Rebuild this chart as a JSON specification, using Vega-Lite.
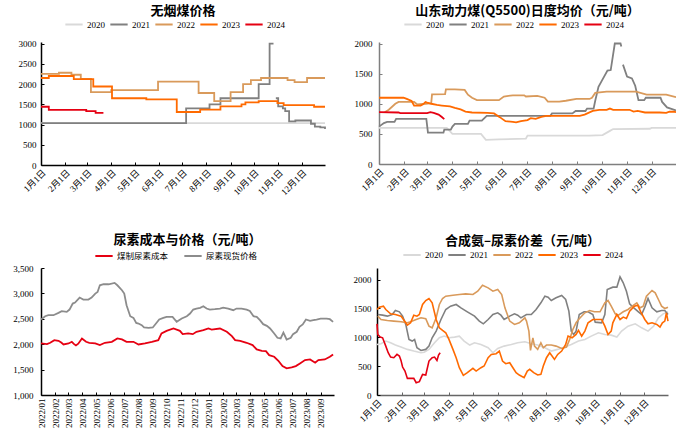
{
  "$schema": "https://vega.github.io/schema/vega-lite/v6.json",
  "padding": {"left": 0, "top": 5, "right": 0, "bottom": 0},
  "background": "white",
  "datasets": {
    "tl": [
      {"date": "2001/01/01", "series": "2020", "value": 1035},
      {"date": "2001/12/31", "series": "2020", "value": 1035},
      {"date": "2001/01/01", "series": "2021", "value": 1035},
      {"date": "2001/07/06", "series": "2021", "value": 1400},
      {"date": "2001/08/05", "series": "2021", "value": 1500},
      {"date": "2001/08/19", "series": "2021", "value": 1650},
      {"date": "2001/10/07", "series": "2021", "value": 2000},
      {"date": "2001/10/21", "series": "2021", "value": 3000},
      {"date": "2001/10/26", "series": "2021", "value": 3000},
      {"date": "2001/10/27", "series": "2021", "value": null},
      {"date": "2001/10/29", "series": "2021", "value": 1650},
      {"date": "2001/11/01", "series": "2021", "value": 1450},
      {"date": "2001/11/07", "series": "2021", "value": 1400},
      {"date": "2001/11/10", "series": "2021", "value": 1330},
      {"date": "2001/11/15", "series": "2021", "value": 1080},
      {"date": "2001/11/23", "series": "2021", "value": 1100},
      {"date": "2001/12/13", "series": "2021", "value": 1020},
      {"date": "2001/12/18", "series": "2021", "value": 950},
      {"date": "2001/12/25", "series": "2021", "value": 930},
      {"date": "2001/12/31", "series": "2021", "value": 890},
      {"date": "2001/01/01", "series": "2022", "value": 2250},
      {"date": "2001/01/24", "series": "2022", "value": 2280},
      {"date": "2001/02/09", "series": "2022", "value": 2230},
      {"date": "2001/02/21", "series": "2022", "value": 2130},
      {"date": "2001/03/06", "series": "2022", "value": 1800},
      {"date": "2001/04/01", "series": "2022", "value": 1850},
      {"date": "2001/05/31", "series": "2022", "value": 2060},
      {"date": "2001/07/22", "series": "2022", "value": 1780},
      {"date": "2001/08/11", "series": "2022", "value": 1580},
      {"date": "2001/09/01", "series": "2022", "value": 1800},
      {"date": "2001/09/17", "series": "2022", "value": 2000},
      {"date": "2001/09/27", "series": "2022", "value": 2100},
      {"date": "2001/10/10", "series": "2022", "value": 2150},
      {"date": "2001/11/13", "series": "2022", "value": 2100},
      {"date": "2001/11/22", "series": "2022", "value": 2050},
      {"date": "2001/12/08", "series": "2022", "value": 2150},
      {"date": "2001/12/31", "series": "2022", "value": 2150},
      {"date": "2001/01/01", "series": "2023", "value": 2150},
      {"date": "2001/01/11", "series": "2023", "value": 2200},
      {"date": "2001/02/12", "series": "2023", "value": 2120},
      {"date": "2001/03/09", "series": "2023", "value": 1940},
      {"date": "2001/04/02", "series": "2023", "value": 1650},
      {"date": "2001/05/16", "series": "2023", "value": 1620},
      {"date": "2001/06/24", "series": "2023", "value": 1310},
      {"date": "2001/07/24", "series": "2023", "value": 1370},
      {"date": "2001/08/19", "series": "2023", "value": 1450},
      {"date": "2001/09/15", "series": "2023", "value": 1500},
      {"date": "2001/09/20", "series": "2023", "value": 1550},
      {"date": "2001/10/07", "series": "2023", "value": 1580},
      {"date": "2001/10/31", "series": "2023", "value": 1530},
      {"date": "2001/11/08", "series": "2023", "value": 1480},
      {"date": "2001/12/17", "series": "2023", "value": 1440},
      {"date": "2001/12/31", "series": "2023", "value": 1440},
      {"date": "2001/01/01", "series": "2024", "value": 1440},
      {"date": "2001/01/11", "series": "2024", "value": 1360},
      {"date": "2001/02/28", "series": "2024", "value": 1330},
      {"date": "2001/03/12", "series": "2024", "value": 1290},
      {"date": "2001/03/22", "series": "2024", "value": 1290}
    ],
    "tr": [
      {"date": "2001/01/01", "series": "2020", "value": 600},
      {"date": "2001/03/25", "series": "2020", "value": 600},
      {"date": "2001/04/01", "series": "2020", "value": 500},
      {"date": "2001/05/06", "series": "2020", "value": 500},
      {"date": "2001/05/12", "series": "2020", "value": 400},
      {"date": "2001/05/28", "series": "2020", "value": 410},
      {"date": "2001/06/30", "series": "2020", "value": 420},
      {"date": "2001/07/02", "series": "2020", "value": 470},
      {"date": "2001/09/16", "series": "2020", "value": 470},
      {"date": "2001/10/02", "series": "2020", "value": 480},
      {"date": "2001/10/11", "series": "2020", "value": 550},
      {"date": "2001/10/15", "series": "2020", "value": 580},
      {"date": "2001/11/29", "series": "2020", "value": 585},
      {"date": "2001/12/01", "series": "2020", "value": 600},
      {"date": "2001/12/31", "series": "2020", "value": 600},
      {"date": "2001/01/01", "series": "2021", "value": 620},
      {"date": "2001/01/07", "series": "2021", "value": 680},
      {"date": "2001/01/11", "series": "2021", "value": 700},
      {"date": "2001/01/20", "series": "2021", "value": 700},
      {"date": "2001/01/22", "series": "2021", "value": 750},
      {"date": "2001/02/28", "series": "2021", "value": 750},
      {"date": "2001/03/02", "series": "2021", "value": 520},
      {"date": "2001/03/21", "series": "2021", "value": 520},
      {"date": "2001/03/22", "series": "2021", "value": 570},
      {"date": "2001/03/30", "series": "2021", "value": 570},
      {"date": "2001/04/01", "series": "2021", "value": 620},
      {"date": "2001/04/04", "series": "2021", "value": 665},
      {"date": "2001/04/20", "series": "2021", "value": 665},
      {"date": "2001/04/22", "series": "2021", "value": 720},
      {"date": "2001/05/07", "series": "2021", "value": 720},
      {"date": "2001/05/13", "series": "2021", "value": 800},
      {"date": "2001/07/30", "series": "2021", "value": 800},
      {"date": "2001/08/01", "series": "2021", "value": 840},
      {"date": "2001/08/26", "series": "2021", "value": 840},
      {"date": "2001/08/30", "series": "2021", "value": 880},
      {"date": "2001/09/11", "series": "2021", "value": 880},
      {"date": "2001/09/13", "series": "2021", "value": 920},
      {"date": "2001/09/21", "series": "2021", "value": 920},
      {"date": "2001/09/23", "series": "2021", "value": 1050},
      {"date": "2001/09/27", "series": "2021", "value": 1280},
      {"date": "2001/10/01", "series": "2021", "value": 1380},
      {"date": "2001/10/08", "series": "2021", "value": 1550},
      {"date": "2001/10/12", "series": "2021", "value": 1560},
      {"date": "2001/10/17", "series": "2021", "value": 2000},
      {"date": "2001/10/24", "series": "2021", "value": 2000},
      {"date": "2001/10/25", "series": "2021", "value": 1950},
      {"date": "2001/10/26", "series": "2021", "value": null},
      {"date": "2001/10/27", "series": "2021", "value": 1650},
      {"date": "2001/11/01", "series": "2021", "value": 1450},
      {"date": "2001/11/07", "series": "2021", "value": 1420},
      {"date": "2001/11/11", "series": "2021", "value": 1300},
      {"date": "2001/11/15", "series": "2021", "value": 1060},
      {"date": "2001/11/22", "series": "2021", "value": 1060},
      {"date": "2001/11/24", "series": "2021", "value": 1100},
      {"date": "2001/12/12", "series": "2021", "value": 1100},
      {"date": "2001/12/14", "series": "2021", "value": 1030},
      {"date": "2001/12/20", "series": "2021", "value": 940},
      {"date": "2001/12/31", "series": "2021", "value": 890},
      {"date": "2001/01/08", "series": "2022", "value": 860},
      {"date": "2001/01/13", "series": "2022", "value": 900},
      {"date": "2001/01/21", "series": "2022", "value": 1000},
      {"date": "2001/01/25", "series": "2022", "value": 1030},
      {"date": "2001/02/13", "series": "2022", "value": 1030},
      {"date": "2001/02/17", "series": "2022", "value": 990},
      {"date": "2001/02/27", "series": "2022", "value": 1000},
      {"date": "2001/03/06", "series": "2022", "value": 1010},
      {"date": "2001/03/07", "series": "2022", "value": 1155},
      {"date": "2001/03/23", "series": "2022", "value": 1160},
      {"date": "2001/03/24", "series": "2022", "value": 1240},
      {"date": "2001/04/04", "series": "2022", "value": 1240},
      {"date": "2001/04/16", "series": "2022", "value": 1230},
      {"date": "2001/04/20", "series": "2022", "value": 1150},
      {"date": "2001/04/25", "series": "2022", "value": 1100},
      {"date": "2001/05/01", "series": "2022", "value": 1060},
      {"date": "2001/05/28", "series": "2022", "value": 1060},
      {"date": "2001/06/03", "series": "2022", "value": 1120},
      {"date": "2001/06/14", "series": "2022", "value": 1140},
      {"date": "2001/06/28", "series": "2022", "value": 1140},
      {"date": "2001/06/30", "series": "2022", "value": 1120},
      {"date": "2001/07/14", "series": "2022", "value": 1130},
      {"date": "2001/07/23", "series": "2022", "value": 1100},
      {"date": "2001/07/27", "series": "2022", "value": 1035},
      {"date": "2001/08/10", "series": "2022", "value": 1035},
      {"date": "2001/08/18", "series": "2022", "value": 1050},
      {"date": "2001/08/31", "series": "2022", "value": 1080},
      {"date": "2001/09/16", "series": "2022", "value": 1080},
      {"date": "2001/09/19", "series": "2022", "value": 1100},
      {"date": "2001/09/23", "series": "2022", "value": 1180},
      {"date": "2001/10/07", "series": "2022", "value": 1200},
      {"date": "2001/11/12", "series": "2022", "value": 1200},
      {"date": "2001/11/25", "series": "2022", "value": 1150},
      {"date": "2001/12/19", "series": "2022", "value": 1150},
      {"date": "2001/12/31", "series": "2022", "value": 1110},
      {"date": "2001/01/01", "series": "2023", "value": 1100},
      {"date": "2001/01/31", "series": "2023", "value": 1100},
      {"date": "2001/02/04", "series": "2023", "value": 1080},
      {"date": "2001/02/10", "series": "2023", "value": 1045},
      {"date": "2001/02/13", "series": "2023", "value": 970},
      {"date": "2001/02/21", "series": "2023", "value": 970},
      {"date": "2001/02/24", "series": "2023", "value": 990},
      {"date": "2001/02/27", "series": "2023", "value": 1030},
      {"date": "2001/03/01", "series": "2023", "value": 1020},
      {"date": "2001/03/06", "series": "2023", "value": 1000},
      {"date": "2001/03/13", "series": "2023", "value": 980},
      {"date": "2001/03/19", "series": "2023", "value": 970},
      {"date": "2001/03/29", "series": "2023", "value": 955},
      {"date": "2001/04/04", "series": "2023", "value": 930},
      {"date": "2001/04/11", "series": "2023", "value": 905},
      {"date": "2001/04/17", "series": "2023", "value": 870},
      {"date": "2001/04/25", "series": "2023", "value": 855},
      {"date": "2001/05/14", "series": "2023", "value": 850},
      {"date": "2001/05/22", "series": "2023", "value": 840},
      {"date": "2001/05/29", "series": "2023", "value": 778},
      {"date": "2001/06/05", "series": "2023", "value": 711},
      {"date": "2001/06/14", "series": "2023", "value": 700},
      {"date": "2001/06/18", "series": "2023", "value": 690},
      {"date": "2001/06/24", "series": "2023", "value": 710},
      {"date": "2001/07/02", "series": "2023", "value": 730},
      {"date": "2001/07/06", "series": "2023", "value": 760},
      {"date": "2001/07/12", "series": "2023", "value": 750},
      {"date": "2001/07/19", "series": "2023", "value": 783},
      {"date": "2001/07/25", "series": "2023", "value": 800},
      {"date": "2001/09/04", "series": "2023", "value": 800},
      {"date": "2001/09/10", "series": "2023", "value": 820},
      {"date": "2001/09/20", "series": "2023", "value": 880},
      {"date": "2001/09/28", "series": "2023", "value": 900},
      {"date": "2001/10/07", "series": "2023", "value": 900},
      {"date": "2001/10/11", "series": "2023", "value": 920},
      {"date": "2001/10/15", "series": "2023", "value": 900},
      {"date": "2001/11/04", "series": "2023", "value": 900},
      {"date": "2001/11/09", "series": "2023", "value": 870},
      {"date": "2001/11/14", "series": "2023", "value": 880},
      {"date": "2001/11/23", "series": "2023", "value": 855},
      {"date": "2001/12/11", "series": "2023", "value": 855},
      {"date": "2001/12/19", "series": "2023", "value": 850},
      {"date": "2001/12/23", "series": "2023", "value": 867},
      {"date": "2001/12/29", "series": "2023", "value": 867},
      {"date": "2001/12/31", "series": "2023", "value": 860},
      {"date": "2001/01/01", "series": "2024", "value": 860},
      {"date": "2001/01/25", "series": "2024", "value": 855},
      {"date": "2001/01/27", "series": "2024", "value": 845},
      {"date": "2001/03/01", "series": "2024", "value": 845},
      {"date": "2001/03/05", "series": "2024", "value": 860},
      {"date": "2001/03/09", "series": "2024", "value": 850},
      {"date": "2001/03/15", "series": "2024", "value": 820},
      {"date": "2001/03/19", "series": "2024", "value": 780},
      {"date": "2001/03/22", "series": "2024", "value": 745}
    ],
    "bl": [
      {"date": "2022/01/01", "series": "煤制尿素成本", "value": 2015},
      {"date": "2022/01/14", "series": "煤制尿素成本", "value": 2001},
      {"date": "2022/01/21", "series": "煤制尿素成本", "value": 2028},
      {"date": "2022/01/30", "series": "煤制尿素成本", "value": 2080},
      {"date": "2022/02/08", "series": "煤制尿素成本", "value": 2067},
      {"date": "2022/02/14", "series": "煤制尿素成本", "value": 2034},
      {"date": "2022/02/19", "series": "煤制尿素成本", "value": 1995},
      {"date": "2022/03/02", "series": "煤制尿素成本", "value": 2015},
      {"date": "2022/03/09", "series": "煤制尿素成本", "value": 2047},
      {"date": "2022/03/14", "series": "煤制尿素成本", "value": 2001},
      {"date": "2022/03/18", "series": "煤制尿素成本", "value": 1975},
      {"date": "2022/03/23", "series": "煤制尿素成本", "value": 2010},
      {"date": "2022/03/31", "series": "煤制尿素成本", "value": 2113},
      {"date": "2022/04/09", "series": "煤制尿素成本", "value": 2047},
      {"date": "2022/04/16", "series": "煤制尿素成本", "value": 2028},
      {"date": "2022/04/29", "series": "煤制尿素成本", "value": 2015},
      {"date": "2022/05/09", "series": "煤制尿素成本", "value": 1982},
      {"date": "2022/05/20", "series": "煤制尿素成本", "value": 2028},
      {"date": "2022/06/04", "series": "煤制尿素成本", "value": 2047},
      {"date": "2022/06/16", "series": "煤制尿素成本", "value": 2113},
      {"date": "2022/06/26", "series": "煤制尿素成本", "value": 2093},
      {"date": "2022/07/06", "series": "煤制尿素成本", "value": 2047},
      {"date": "2022/07/21", "series": "煤制尿素成本", "value": 2047},
      {"date": "2022/08/01", "series": "煤制尿素成本", "value": 1995},
      {"date": "2022/08/15", "series": "煤制尿素成本", "value": 2015},
      {"date": "2022/08/30", "series": "煤制尿素成本", "value": 2047},
      {"date": "2022/09/13", "series": "煤制尿素成本", "value": 2080},
      {"date": "2022/09/20", "series": "煤制尿素成本", "value": 2211},
      {"date": "2022/10/01", "series": "煤制尿素成本", "value": 2263},
      {"date": "2022/10/16", "series": "煤制尿素成本", "value": 2309},
      {"date": "2022/10/30", "series": "煤制尿素成本", "value": 2263},
      {"date": "2022/11/05", "series": "煤制尿素成本", "value": 2198},
      {"date": "2022/11/17", "series": "煤制尿素成本", "value": 2211},
      {"date": "2022/11/27", "series": "煤制尿素成本", "value": 2198},
      {"date": "2022/12/05", "series": "煤制尿素成本", "value": 2244},
      {"date": "2022/12/20", "series": "煤制尿素成本", "value": 2276},
      {"date": "2022/12/31", "series": "煤制尿素成本", "value": 2309},
      {"date": "2023/01/07", "series": "煤制尿素成本", "value": 2289},
      {"date": "2023/01/25", "series": "煤制尿素成本", "value": 2309},
      {"date": "2023/02/09", "series": "煤制尿素成本", "value": 2244},
      {"date": "2023/02/20", "series": "煤制尿素成本", "value": 2158},
      {"date": "2023/02/27", "series": "煤制尿素成本", "value": 2080},
      {"date": "2023/03/10", "series": "煤制尿素成本", "value": 2067},
      {"date": "2023/03/24", "series": "煤制尿素成本", "value": 2028},
      {"date": "2023/04/06", "series": "煤制尿素成本", "value": 1982},
      {"date": "2023/04/15", "series": "煤制尿素成本", "value": 1897},
      {"date": "2023/04/26", "series": "煤制尿素成本", "value": 1870},
      {"date": "2023/05/05", "series": "煤制尿素成本", "value": 1864},
      {"date": "2023/05/12", "series": "煤制尿素成本", "value": 1785},
      {"date": "2023/05/23", "series": "煤制尿素成本", "value": 1753},
      {"date": "2023/06/01", "series": "煤制尿素成本", "value": 1674},
      {"date": "2023/06/10", "series": "煤制尿素成本", "value": 1569},
      {"date": "2023/06/19", "series": "煤制尿素成本", "value": 1524},
      {"date": "2023/06/30", "series": "煤制尿素成本", "value": 1543},
      {"date": "2023/07/09", "series": "煤制尿素成本", "value": 1569},
      {"date": "2023/07/18", "series": "煤制尿素成本", "value": 1622},
      {"date": "2023/07/29", "series": "煤制尿素成本", "value": 1687},
      {"date": "2023/08/09", "series": "煤制尿素成本", "value": 1700},
      {"date": "2023/08/20", "series": "煤制尿素成本", "value": 1635},
      {"date": "2023/08/27", "series": "煤制尿素成本", "value": 1687},
      {"date": "2023/09/10", "series": "煤制尿素成本", "value": 1700},
      {"date": "2023/09/21", "series": "煤制尿素成本", "value": 1753},
      {"date": "2023/09/28", "series": "煤制尿素成本", "value": 1799},
      {"date": "2022/01/01", "series": "尿素现货价格", "value": 2486},
      {"date": "2022/01/10", "series": "尿素现货价格", "value": 2551},
      {"date": "2022/01/17", "series": "尿素现货价格", "value": 2571},
      {"date": "2022/01/28", "series": "尿素现货价格", "value": 2571},
      {"date": "2022/02/08", "series": "尿素现货价格", "value": 2617},
      {"date": "2022/02/15", "series": "尿素现货价格", "value": 2650},
      {"date": "2022/02/26", "series": "尿素现货价格", "value": 2636},
      {"date": "2022/03/04", "series": "尿素现货价格", "value": 2682},
      {"date": "2022/03/11", "series": "尿素现货价格", "value": 2800},
      {"date": "2022/03/16", "series": "尿素现货价格", "value": 2820},
      {"date": "2022/03/26", "series": "尿素现货价格", "value": 2918},
      {"date": "2022/04/03", "series": "尿素现货价格", "value": 2878},
      {"date": "2022/04/14", "series": "尿素现货价格", "value": 2878},
      {"date": "2022/04/21", "series": "尿素现货价格", "value": 2918},
      {"date": "2022/04/29", "series": "尿素现货价格", "value": 2996},
      {"date": "2022/05/04", "series": "尿素现货价格", "value": 3029},
      {"date": "2022/05/09", "series": "尿素现货价格", "value": 3160},
      {"date": "2022/05/17", "series": "尿素现货价格", "value": 3180},
      {"date": "2022/05/28", "series": "尿素现货价格", "value": 3180},
      {"date": "2022/06/10", "series": "尿素现货价格", "value": 3206},
      {"date": "2022/06/16", "series": "尿素现货价格", "value": 3160},
      {"date": "2022/06/26", "series": "尿素现货价格", "value": 3062},
      {"date": "2022/07/01", "series": "尿素现货价格", "value": 2996},
      {"date": "2022/07/06", "series": "尿素现货价格", "value": 2767},
      {"date": "2022/07/14", "series": "尿素现货价格", "value": 2551},
      {"date": "2022/07/21", "series": "尿素现货价格", "value": 2518},
      {"date": "2022/07/27", "series": "尿素现货价格", "value": 2420},
      {"date": "2022/08/01", "series": "尿素现货价格", "value": 2407},
      {"date": "2022/08/08", "series": "尿素现货价格", "value": 2374},
      {"date": "2022/08/13", "series": "尿素现货价格", "value": 2329},
      {"date": "2022/08/23", "series": "尿素现货价格", "value": 2322},
      {"date": "2022/09/01", "series": "尿素现货价格", "value": 2329},
      {"date": "2022/09/08", "series": "尿素现货价格", "value": 2407},
      {"date": "2022/09/15", "series": "尿素现货价格", "value": 2486},
      {"date": "2022/09/24", "series": "尿素现货价格", "value": 2518},
      {"date": "2022/10/01", "series": "尿素现货价格", "value": 2538},
      {"date": "2022/10/14", "series": "尿素现货价格", "value": 2538},
      {"date": "2022/10/23", "series": "尿素现货价格", "value": 2440},
      {"date": "2022/11/03", "series": "尿素现货价格", "value": 2505},
      {"date": "2022/11/14", "series": "尿素现货价格", "value": 2551},
      {"date": "2022/11/21", "series": "尿素现货价格", "value": 2604},
      {"date": "2022/11/28", "series": "尿素现货价格", "value": 2682},
      {"date": "2022/12/05", "series": "尿素现货价格", "value": 2702},
      {"date": "2022/12/13", "series": "尿素现货价格", "value": 2715},
      {"date": "2022/12/20", "series": "尿素现货价格", "value": 2748},
      {"date": "2022/12/27", "series": "尿素现货价格", "value": 2702},
      {"date": "2023/01/03", "series": "尿素现货价格", "value": 2682},
      {"date": "2023/01/14", "series": "尿素现货价格", "value": 2689},
      {"date": "2023/01/25", "series": "尿素现货价格", "value": 2702},
      {"date": "2023/02/01", "series": "尿素现货价格", "value": 2721},
      {"date": "2023/02/12", "series": "尿素现货价格", "value": 2702},
      {"date": "2023/02/23", "series": "尿素现货价格", "value": 2669},
      {"date": "2023/03/02", "series": "尿素现货价格", "value": 2702},
      {"date": "2023/03/13", "series": "尿素现货价格", "value": 2702},
      {"date": "2023/03/24", "series": "尿素现货价格", "value": 2682},
      {"date": "2023/03/31", "series": "尿素现货价格", "value": 2656},
      {"date": "2023/04/08", "series": "尿素现货价格", "value": 2551},
      {"date": "2023/04/15", "series": "尿素现货价格", "value": 2538},
      {"date": "2023/04/22", "series": "尿素现货价格", "value": 2473},
      {"date": "2023/04/29", "series": "尿素现货价格", "value": 2394},
      {"date": "2023/05/07", "series": "尿素现货价格", "value": 2361},
      {"date": "2023/05/14", "series": "尿素现货价格", "value": 2309},
      {"date": "2023/05/23", "series": "尿素现货价格", "value": 2211},
      {"date": "2023/05/30", "series": "尿素现货价格", "value": 2126},
      {"date": "2023/06/06", "series": "尿素现货价格", "value": 2113},
      {"date": "2023/06/12", "series": "尿素现货价格", "value": 2230},
      {"date": "2023/06/19", "series": "尿素现货价格", "value": 2093},
      {"date": "2023/06/28", "series": "尿素现货价格", "value": 2126},
      {"date": "2023/07/03", "series": "尿素现货价格", "value": 2198},
      {"date": "2023/07/11", "series": "尿素现货价格", "value": 2244},
      {"date": "2023/07/17", "series": "尿素现货价格", "value": 2342},
      {"date": "2023/07/24", "series": "尿素现货价格", "value": 2388},
      {"date": "2023/07/31", "series": "尿素现货价格", "value": 2486},
      {"date": "2023/08/09", "series": "尿素现货价格", "value": 2460},
      {"date": "2023/08/16", "series": "尿素现货价格", "value": 2473},
      {"date": "2023/08/23", "series": "尿素现货价格", "value": 2486},
      {"date": "2023/09/01", "series": "尿素现货价格", "value": 2505},
      {"date": "2023/09/14", "series": "尿素现货价格", "value": 2505},
      {"date": "2023/09/21", "series": "尿素现货价格", "value": 2492},
      {"date": "2023/09/28", "series": "尿素现货价格", "value": 2440}
    ],
    "br": [
      {"date": "2001/01/01", "series": "2020", "value": 876},
      {"date": "2001/01/06", "series": "2020", "value": 888},
      {"date": "2001/01/12", "series": "2020", "value": 934},
      {"date": "2001/01/18", "series": "2020", "value": 905},
      {"date": "2001/01/24", "series": "2020", "value": 865},
      {"date": "2001/01/31", "series": "2020", "value": 830},
      {"date": "2001/02/08", "series": "2020", "value": 790},
      {"date": "2001/02/16", "series": "2020", "value": 761},
      {"date": "2001/02/25", "series": "2020", "value": 732},
      {"date": "2001/03/01", "series": "2020", "value": 740},
      {"date": "2001/03/07", "series": "2020", "value": 790},
      {"date": "2001/03/14", "series": "2020", "value": 905},
      {"date": "2001/03/20", "series": "2020", "value": 991},
      {"date": "2001/03/26", "series": "2020", "value": 1020},
      {"date": "2001/04/01", "series": "2020", "value": 991},
      {"date": "2001/04/08", "series": "2020", "value": 1003},
      {"date": "2001/04/14", "series": "2020", "value": 1020},
      {"date": "2001/04/20", "series": "2020", "value": 934},
      {"date": "2001/04/27", "series": "2020", "value": 865},
      {"date": "2001/05/03", "series": "2020", "value": 905},
      {"date": "2001/05/11", "series": "2020", "value": 876},
      {"date": "2001/05/20", "series": "2020", "value": 818},
      {"date": "2001/05/26", "series": "2020", "value": 732},
      {"date": "2001/06/01", "series": "2020", "value": 807},
      {"date": "2001/06/09", "series": "2020", "value": 847},
      {"date": "2001/06/18", "series": "2020", "value": 876},
      {"date": "2001/06/26", "series": "2020", "value": 905},
      {"date": "2001/07/05", "series": "2020", "value": 922},
      {"date": "2001/07/13", "series": "2020", "value": 888},
      {"date": "2001/07/21", "series": "2020", "value": 865},
      {"date": "2001/07/30", "series": "2020", "value": 818},
      {"date": "2001/08/07", "series": "2020", "value": 761},
      {"date": "2001/08/15", "series": "2020", "value": 790},
      {"date": "2001/08/24", "series": "2020", "value": 830},
      {"date": "2001/09/01", "series": "2020", "value": 876},
      {"date": "2001/09/10", "series": "2020", "value": 934},
      {"date": "2001/09/18", "series": "2020", "value": 963},
      {"date": "2001/09/26", "series": "2020", "value": 1020},
      {"date": "2001/10/05", "series": "2020", "value": 1078},
      {"date": "2001/10/13", "series": "2020", "value": 1049},
      {"date": "2001/10/21", "series": "2020", "value": 1037},
      {"date": "2001/10/28", "series": "2020", "value": 1003},
      {"date": "2001/11/03", "series": "2020", "value": 1107},
      {"date": "2001/11/11", "series": "2020", "value": 1193},
      {"date": "2001/11/20", "series": "2020", "value": 1233},
      {"date": "2001/11/28", "series": "2020", "value": 1164},
      {"date": "2001/12/06", "series": "2020", "value": 1107},
      {"date": "2001/12/13", "series": "2020", "value": 1193},
      {"date": "2001/12/19", "series": "2020", "value": 1337},
      {"date": "2001/12/25", "series": "2020", "value": 1406},
      {"date": "2001/12/31", "series": "2020", "value": 1441},
      {"date": "2001/01/02", "series": "2021", "value": 1395},
      {"date": "2001/01/08", "series": "2021", "value": 1383},
      {"date": "2001/01/14", "series": "2021", "value": 1366},
      {"date": "2001/01/20", "series": "2021", "value": 1395},
      {"date": "2001/01/24", "series": "2021", "value": 1464},
      {"date": "2001/01/29", "series": "2021", "value": 1441},
      {"date": "2001/02/02", "series": "2021", "value": 1366},
      {"date": "2001/02/06", "series": "2021", "value": 1222},
      {"date": "2001/02/10", "series": "2021", "value": 963},
      {"date": "2001/02/14", "series": "2021", "value": 934},
      {"date": "2001/02/17", "series": "2021", "value": 960},
      {"date": "2001/02/20", "series": "2021", "value": 818},
      {"date": "2001/02/25", "series": "2021", "value": 772},
      {"date": "2001/03/03", "series": "2021", "value": 790},
      {"date": "2001/03/07", "series": "2021", "value": 847},
      {"date": "2001/03/11", "series": "2021", "value": 991},
      {"date": "2001/03/16", "series": "2021", "value": 1107},
      {"date": "2001/03/22", "series": "2021", "value": 1308},
      {"date": "2001/03/28", "series": "2021", "value": 1481},
      {"date": "2001/04/03", "series": "2021", "value": 1539},
      {"date": "2001/04/10", "series": "2021", "value": 1568},
      {"date": "2001/04/16", "series": "2021", "value": 1510},
      {"date": "2001/04/24", "series": "2021", "value": 1441},
      {"date": "2001/05/03", "series": "2021", "value": 1366},
      {"date": "2001/05/09", "series": "2021", "value": 1280},
      {"date": "2001/05/14", "series": "2021", "value": 1233},
      {"date": "2001/05/20", "series": "2021", "value": 1308},
      {"date": "2001/05/26", "series": "2021", "value": 1395},
      {"date": "2001/06/01", "series": "2021", "value": 1424},
      {"date": "2001/06/05", "series": "2021", "value": 1383},
      {"date": "2001/06/09", "series": "2021", "value": 1308},
      {"date": "2001/06/16", "series": "2021", "value": 1366},
      {"date": "2001/06/22", "series": "2021", "value": 1406},
      {"date": "2001/06/26", "series": "2021", "value": 1383},
      {"date": "2001/06/30", "series": "2021", "value": 1337},
      {"date": "2001/07/07", "series": "2021", "value": 1395},
      {"date": "2001/07/13", "series": "2021", "value": 1395},
      {"date": "2001/07/19", "series": "2021", "value": 1481},
      {"date": "2001/07/25", "series": "2021", "value": 1597},
      {"date": "2001/07/30", "series": "2021", "value": 1712},
      {"date": "2001/08/03", "series": "2021", "value": 1694},
      {"date": "2001/08/07", "series": "2021", "value": 1637},
      {"date": "2001/08/13", "series": "2021", "value": 1683},
      {"date": "2001/08/20", "series": "2021", "value": 1723},
      {"date": "2001/08/25", "series": "2021", "value": 1654},
      {"date": "2001/08/29", "series": "2021", "value": 1453},
      {"date": "2001/09/01", "series": "2021", "value": 1107},
      {"date": "2001/09/04", "series": "2021", "value": 1049},
      {"date": "2001/09/07", "series": "2021", "value": 1107},
      {"date": "2001/09/11", "series": "2021", "value": 1395},
      {"date": "2001/09/17", "series": "2021", "value": 1441},
      {"date": "2001/09/22", "series": "2021", "value": 1441},
      {"date": "2001/09/28", "series": "2021", "value": 1395},
      {"date": "2001/10/01", "series": "2021", "value": 1262},
      {"date": "2001/10/09", "series": "2021", "value": 1251},
      {"date": "2001/10/13", "series": "2021", "value": 1395},
      {"date": "2001/10/16", "series": "2021", "value": 1827},
      {"date": "2001/10/23", "series": "2021", "value": 1868},
      {"date": "2001/10/28", "series": "2021", "value": 1868},
      {"date": "2001/11/01", "series": "2021", "value": 2046},
      {"date": "2001/11/05", "series": "2021", "value": 1943},
      {"date": "2001/11/09", "series": "2021", "value": 1798},
      {"date": "2001/11/13", "series": "2021", "value": 1579},
      {"date": "2001/11/19", "series": "2021", "value": 1499},
      {"date": "2001/11/24", "series": "2021", "value": 1441},
      {"date": "2001/11/28", "series": "2021", "value": 1395},
      {"date": "2001/12/02", "series": "2021", "value": 1522},
      {"date": "2001/12/06", "series": "2021", "value": 1672},
      {"date": "2001/12/11", "series": "2021", "value": 1510},
      {"date": "2001/12/17", "series": "2021", "value": 1441},
      {"date": "2001/12/23", "series": "2021", "value": 1464},
      {"date": "2001/12/27", "series": "2021", "value": 1464},
      {"date": "2001/12/31", "series": "2021", "value": 1395},
      {"date": "2001/01/02", "series": "2022", "value": 1366},
      {"date": "2001/01/06", "series": "2022", "value": 1308},
      {"date": "2001/01/14", "series": "2022", "value": 1291},
      {"date": "2001/01/22", "series": "2022", "value": 1280},
      {"date": "2001/01/31", "series": "2022", "value": 1268},
      {"date": "2001/02/08", "series": "2022", "value": 1251},
      {"date": "2001/02/12", "series": "2022", "value": 1268},
      {"date": "2001/02/19", "series": "2022", "value": 1308},
      {"date": "2001/02/25", "series": "2022", "value": 1337},
      {"date": "2001/03/03", "series": "2022", "value": 1320},
      {"date": "2001/03/07", "series": "2022", "value": 1193},
      {"date": "2001/03/11", "series": "2022", "value": 1164},
      {"date": "2001/03/16", "series": "2022", "value": 1337},
      {"date": "2001/03/20", "series": "2022", "value": 1568},
      {"date": "2001/03/24", "series": "2022", "value": 1672},
      {"date": "2001/03/28", "series": "2022", "value": 1712},
      {"date": "2001/04/06", "series": "2022", "value": 1729},
      {"date": "2001/04/14", "series": "2022", "value": 1741},
      {"date": "2001/04/22", "series": "2022", "value": 1752},
      {"date": "2001/05/01", "series": "2022", "value": 1741},
      {"date": "2001/05/07", "series": "2022", "value": 1798},
      {"date": "2001/05/13", "series": "2022", "value": 1902},
      {"date": "2001/05/20", "series": "2022", "value": 1856},
      {"date": "2001/05/26", "series": "2022", "value": 1798},
      {"date": "2001/06/01", "series": "2022", "value": 1827},
      {"date": "2001/06/06", "series": "2022", "value": 1741},
      {"date": "2001/06/10", "series": "2022", "value": 1510},
      {"date": "2001/06/16", "series": "2022", "value": 1280},
      {"date": "2001/06/22", "series": "2022", "value": 1222},
      {"date": "2001/06/28", "series": "2022", "value": 1251},
      {"date": "2001/07/05", "series": "2022", "value": 1337},
      {"date": "2001/07/07", "series": "2022", "value": 1280},
      {"date": "2001/07/10", "series": "2022", "value": 1107},
      {"date": "2001/07/12", "series": "2022", "value": 772},
      {"date": "2001/07/15", "series": "2022", "value": 991},
      {"date": "2001/07/17", "series": "2022", "value": 847},
      {"date": "2001/07/21", "series": "2022", "value": 790},
      {"date": "2001/07/25", "series": "2022", "value": 905},
      {"date": "2001/07/28", "series": "2022", "value": 818},
      {"date": "2001/08/01", "series": "2022", "value": 865},
      {"date": "2001/08/07", "series": "2022", "value": 865},
      {"date": "2001/08/13", "series": "2022", "value": 847},
      {"date": "2001/08/20", "series": "2022", "value": 807},
      {"date": "2001/08/26", "series": "2022", "value": 830},
      {"date": "2001/08/30", "series": "2022", "value": 963},
      {"date": "2001/09/03", "series": "2022", "value": 1135},
      {"date": "2001/09/07", "series": "2022", "value": 1251},
      {"date": "2001/09/11", "series": "2022", "value": 1320},
      {"date": "2001/09/18", "series": "2022", "value": 1424},
      {"date": "2001/09/24", "series": "2022", "value": 1464},
      {"date": "2001/09/30", "series": "2022", "value": 1441},
      {"date": "2001/10/07", "series": "2022", "value": 1441},
      {"date": "2001/10/13", "series": "2022", "value": 1597},
      {"date": "2001/10/17", "series": "2022", "value": 1637},
      {"date": "2001/10/21", "series": "2022", "value": 1539},
      {"date": "2001/10/26", "series": "2022", "value": 1406},
      {"date": "2001/10/30", "series": "2022", "value": 1383},
      {"date": "2001/11/05", "series": "2022", "value": 1441},
      {"date": "2001/11/11", "series": "2022", "value": 1481},
      {"date": "2001/11/18", "series": "2022", "value": 1556},
      {"date": "2001/11/22", "series": "2022", "value": 1597},
      {"date": "2001/11/26", "series": "2022", "value": 1510},
      {"date": "2001/11/30", "series": "2022", "value": 1539},
      {"date": "2001/12/04", "series": "2022", "value": 1712},
      {"date": "2001/12/11", "series": "2022", "value": 1810},
      {"date": "2001/12/15", "series": "2022", "value": 1770},
      {"date": "2001/12/19", "series": "2022", "value": 1654},
      {"date": "2001/12/23", "series": "2022", "value": 1539},
      {"date": "2001/12/27", "series": "2022", "value": 1499},
      {"date": "2001/12/31", "series": "2022", "value": 1522},
      {"date": "2001/01/01", "series": "2023", "value": 1481},
      {"date": "2001/01/04", "series": "2023", "value": 1522},
      {"date": "2001/01/09", "series": "2023", "value": 1539},
      {"date": "2001/01/12", "series": "2023", "value": 1481},
      {"date": "2001/01/18", "series": "2023", "value": 1406},
      {"date": "2001/01/24", "series": "2023", "value": 1395},
      {"date": "2001/01/31", "series": "2023", "value": 1366},
      {"date": "2001/02/04", "series": "2023", "value": 1291},
      {"date": "2001/02/08", "series": "2023", "value": 1210},
      {"date": "2001/02/12", "series": "2023", "value": 1251},
      {"date": "2001/02/16", "series": "2023", "value": 1383},
      {"date": "2001/02/20", "series": "2023", "value": 1366},
      {"date": "2001/02/23", "series": "2023", "value": 1395},
      {"date": "2001/02/27", "series": "2023", "value": 1568},
      {"date": "2001/03/03", "series": "2023", "value": 1637},
      {"date": "2001/03/07", "series": "2023", "value": 1672},
      {"date": "2001/03/11", "series": "2023", "value": 1597},
      {"date": "2001/03/16", "series": "2023", "value": 1308},
      {"date": "2001/03/20", "series": "2023", "value": 1164},
      {"date": "2001/03/24", "series": "2023", "value": 1118},
      {"date": "2001/03/28", "series": "2023", "value": 1078},
      {"date": "2001/04/01", "series": "2023", "value": 963},
      {"date": "2001/04/06", "series": "2023", "value": 790},
      {"date": "2001/04/10", "series": "2023", "value": 646},
      {"date": "2001/04/14", "series": "2023", "value": 473},
      {"date": "2001/04/19", "series": "2023", "value": 340},
      {"date": "2001/04/24", "series": "2023", "value": 386},
      {"date": "2001/05/01", "series": "2023", "value": 461},
      {"date": "2001/05/05", "series": "2023", "value": 415},
      {"date": "2001/05/11", "series": "2023", "value": 473},
      {"date": "2001/05/15", "series": "2023", "value": 502},
      {"date": "2001/05/20", "series": "2023", "value": 646},
      {"date": "2001/05/24", "series": "2023", "value": 703},
      {"date": "2001/05/30", "series": "2023", "value": 715},
      {"date": "2001/06/03", "series": "2023", "value": 761},
      {"date": "2001/06/07", "series": "2023", "value": 588},
      {"date": "2001/06/11", "series": "2023", "value": 542},
      {"date": "2001/06/16", "series": "2023", "value": 559},
      {"date": "2001/06/20", "series": "2023", "value": 473},
      {"date": "2001/06/24", "series": "2023", "value": 386},
      {"date": "2001/06/28", "series": "2023", "value": 346},
      {"date": "2001/07/04", "series": "2023", "value": 300},
      {"date": "2001/07/08", "series": "2023", "value": 415},
      {"date": "2001/07/11", "series": "2023", "value": 444},
      {"date": "2001/07/16", "series": "2023", "value": 386},
      {"date": "2001/07/21", "series": "2023", "value": 346},
      {"date": "2001/07/25", "series": "2023", "value": 357},
      {"date": "2001/07/28", "series": "2023", "value": 502},
      {"date": "2001/08/01", "series": "2023", "value": 646},
      {"date": "2001/08/05", "series": "2023", "value": 732},
      {"date": "2001/08/11", "series": "2023", "value": 617},
      {"date": "2001/08/15", "series": "2023", "value": 703},
      {"date": "2001/08/20", "series": "2023", "value": 761},
      {"date": "2001/08/25", "series": "2023", "value": 876},
      {"date": "2001/08/28", "series": "2023", "value": 1020},
      {"date": "2001/09/02", "series": "2023", "value": 991},
      {"date": "2001/09/07", "series": "2023", "value": 1049},
      {"date": "2001/09/10", "series": "2023", "value": 1118},
      {"date": "2001/09/14", "series": "2023", "value": 1020},
      {"date": "2001/09/18", "series": "2023", "value": 1107},
      {"date": "2001/09/22", "series": "2023", "value": 1251},
      {"date": "2001/09/28", "series": "2023", "value": 1308},
      {"date": "2001/10/03", "series": "2023", "value": 1308},
      {"date": "2001/10/09", "series": "2023", "value": 1308},
      {"date": "2001/10/13", "series": "2023", "value": 1193},
      {"date": "2001/10/17", "series": "2023", "value": 1049},
      {"date": "2001/10/21", "series": "2023", "value": 1107},
      {"date": "2001/10/23", "series": "2023", "value": 1251},
      {"date": "2001/10/28", "series": "2023", "value": 1395},
      {"date": "2001/11/01", "series": "2023", "value": 1308},
      {"date": "2001/11/05", "series": "2023", "value": 1349},
      {"date": "2001/11/09", "series": "2023", "value": 1326},
      {"date": "2001/11/13", "series": "2023", "value": 1453},
      {"date": "2001/11/19", "series": "2023", "value": 1539},
      {"date": "2001/11/23", "series": "2023", "value": 1556},
      {"date": "2001/11/27", "series": "2023", "value": 1441},
      {"date": "2001/12/02", "series": "2023", "value": 1308},
      {"date": "2001/12/06", "series": "2023", "value": 1233},
      {"date": "2001/12/11", "series": "2023", "value": 1251},
      {"date": "2001/12/17", "series": "2023", "value": 1222},
      {"date": "2001/12/21", "series": "2023", "value": 1176},
      {"date": "2001/12/24", "series": "2023", "value": 1251},
      {"date": "2001/12/27", "series": "2023", "value": 1280},
      {"date": "2001/12/29", "series": "2023", "value": 1424},
      {"date": "2001/12/31", "series": "2023", "value": 1280},
      {"date": "2001/01/01", "series": "2024", "value": 1233},
      {"date": "2001/01/02", "series": "2024", "value": 1049},
      {"date": "2001/01/05", "series": "2024", "value": 1003},
      {"date": "2001/01/08", "series": "2024", "value": 991},
      {"date": "2001/01/12", "series": "2024", "value": 847},
      {"date": "2001/01/15", "series": "2024", "value": 732},
      {"date": "2001/01/18", "series": "2024", "value": 657},
      {"date": "2001/01/22", "series": "2024", "value": 646},
      {"date": "2001/01/26", "series": "2024", "value": 703},
      {"date": "2001/01/29", "series": "2024", "value": 674},
      {"date": "2001/01/31", "series": "2024", "value": 599},
      {"date": "2001/02/02", "series": "2024", "value": 484},
      {"date": "2001/02/05", "series": "2024", "value": 415},
      {"date": "2001/02/08", "series": "2024", "value": 288},
      {"date": "2001/02/12", "series": "2024", "value": 288},
      {"date": "2001/02/16", "series": "2024", "value": 288},
      {"date": "2001/02/19", "series": "2024", "value": 213},
      {"date": "2001/02/23", "series": "2024", "value": 231},
      {"date": "2001/02/27", "series": "2024", "value": 357},
      {"date": "2001/03/03", "series": "2024", "value": 346},
      {"date": "2001/03/07", "series": "2024", "value": 588},
      {"date": "2001/03/11", "series": "2024", "value": 646},
      {"date": "2001/03/14", "series": "2024", "value": 657},
      {"date": "2001/03/17", "series": "2024", "value": 599},
      {"date": "2001/03/19", "series": "2024", "value": 692},
      {"date": "2001/03/21", "series": "2024", "value": 732}
    ]
  },
  "vconcat": [
    {
      "hconcat": [
        {
          "width": 284,
          "height": 123,
          "title": {"text": "无烟煤价格", "offset": 1.5},
          "data": {"name": "tl"},
          "mark": {"type": "line", "interpolate": "step-after", "strokeWidth": 1.8},
          "encoding": {
            "x": {"field": "date", "type": "temporal",
              "scale": {"domain": [{"year": 2001, "month": 1, "date": 1}, {"year": 2001, "month": 12, "date": 31}]},
              "axis": {"format": "%-m月%-d日", "labelAngle": -45, "tickCount": {"interval": "month", "step": 1}, "labelPadding": 6}},
            "y": {"field": "value", "type": "quantitative",
              "scale": {"domain": [0, 3040], "nice": false},
              "axis": {"values": [0, 500, 1000, 1500, 2000, 2500, 3000], "format": "d", "minExtent": 37, "maxExtent": 37, "labelPadding": 8}},
            "color": {"field": "series", "type": "nominal",
              "scale": {"domain": ["2020", "2021", "2022", "2023", "2024"], "range": ["#D9D9D9", "#808080", "#D99A5B", "#FF6A00", "#E50012"]},
              "legend": {"legendX": 23, "legendY": -22.5}}
          }
        },
        {
          "width": 297,
          "height": 122,
          "title": {"text": "山东动力煤(Q5500)日度均价（元/吨）", "offset": 1.5},
          "data": {"name": "tr"},
          "mark": {"type": "line", "strokeWidth": 1.8},
          "encoding": {
            "x": {"field": "date", "type": "temporal",
              "scale": {"domain": [{"year": 2001, "month": 1, "date": 1}, {"year": 2001, "month": 12, "date": 31}]},
              "axis": {"format": "%-m月%-d日", "labelAngle": -45, "tickCount": {"interval": "month", "step": 1}, "labelPadding": 6, "domainColor": "#7F7F7F", "tickColor": "#7F7F7F"}},
            "y": {"field": "value", "type": "quantitative",
              "scale": {"domain": [0, 2025], "nice": false},
              "axis": {"values": [0, 500, 1000, 1500, 2000], "format": "d", "minExtent": 33, "maxExtent": 33, "labelPadding": 10, "domainColor": "#7F7F7F", "tickColor": "#7F7F7F"}},
            "color": {"field": "series", "type": "nominal",
              "scale": {"domain": ["2020", "2021", "2022", "2023", "2024"], "range": ["#D9D9D9", "#808080", "#D99A5B", "#FF6A00", "#E50012"]},
              "legend": {"legendX": 24, "legendY": -22.5}}
          }
        }
      ],
      "spacing": 17,
      "resolve": {"scale": {"color": "independent"}, "legend": {"color": "independent"}}
    },
    {
      "hconcat": [
        {
          "width": 293,
          "height": 127,
          "title": {"text": "尿素成本与价格（元/吨）", "offset": 4.5},
          "data": {"name": "bl"},
          "mark": {"type": "line", "strokeWidth": 1.8},
          "encoding": {
            "x": {"field": "date", "type": "temporal",
              "scale": {"domain": [{"year": 2022, "month": 1, "date": 1}, {"year": 2023, "month": 9, "date": 30}]},
              "axis": {"format": "%Y/%m", "labelAngle": 270, "tickCount": {"interval": "month", "step": 1}, "labelPadding": 6}},
            "y": {"field": "value", "type": "quantitative",
              "scale": {"domain": [1000, 3500], "nice": false},
              "axis": {"values": [1000, 1500, 2000, 2500, 3000, 3500], "format": ",.0f", "minExtent": 41, "maxExtent": 41, "labelPadding": 11}},
            "color": {"field": "series", "type": "nominal",
              "scale": {"domain": ["煤制尿素成本", "尿素现货价格"], "range": ["#E60012", "#8C8C8C"]},
              "legend": {"legendX": 53, "legendY": -17, "columnPadding": 14, "labelFontSize": 8.5}}
          }
        },
        {
          "width": 291,
          "height": 127,
          "title": {"text": "合成氨–尿素价差（元/吨）", "offset": 2.5},
          "data": {"name": "br"},
          "mark": {"type": "line", "strokeWidth": 1.6},
          "encoding": {
            "x": {"field": "date", "type": "temporal",
              "scale": {"domain": [{"year": 2001, "month": 1, "date": 1}, {"year": 2001, "month": 12, "date": 31}]},
              "axis": {"format": "%-m月%-d日", "labelAngle": -45, "tickCount": {"interval": "month", "step": 1}, "labelPadding": 6, "domainColor": "#666666", "tickColor": "#666666"}},
            "y": {"field": "value", "type": "quantitative",
              "scale": {"domain": [0, 2200], "nice": false},
              "axis": {"values": [0, 500, 1000, 1500, 2000], "format": "d", "minExtent": 30, "maxExtent": 30, "labelPadding": 9}},
            "color": {"field": "series", "type": "nominal",
              "scale": {"domain": ["2020", "2021", "2022", "2023", "2024"], "range": ["#D9D9D9", "#808080", "#D99A5B", "#FF6A00", "#E50012"]},
              "legend": {"legendX": 25, "legendY": -18}}
          }
        }
      ],
      "spacing": 10,
      "resolve": {"scale": {"color": "independent"}, "legend": {"color": "independent"}}
    }
  ],
  "spacing": 36,
  "resolve": {"scale": {"color": "independent"}, "legend": {"color": "independent"}},
  "config": {
    "view": {"stroke": null},
    "axis": {
      "grid": false,
      "title": null,
      "labelFont": "Liberation Serif, Noto Sans CJK SC",
      "labelFontSize": 9,
      "labelColor": "#000000",
      "domainColor": "#000000",
      "domainWidth": 1.5,
      "tickColor": "#000000",
      "tickSize": -3,
      "labelOverlap": false,
      "labelFlush": false
    },
    "legend": {
      "title": null,
      "orient": "none",
      "direction": "horizontal",
      "labelFont": "Liberation Serif, Noto Sans CJK SC",
      "labelFontSize": 9,
      "labelColor": "#000000",
      "symbolType": "stroke",
      "symbolStrokeWidth": 2,
      "symbolSize": 300,
      "clipHeight": 10,
      "columnPadding": 4,
      "labelOffset": 3,
      "padding": 0
    },
    "title": {
      "font": "Noto Sans CJK SC",
      "fontSize": 13,
      "fontWeight": "bold",
      "color": "#000000",
      "anchor": "middle",
      "frame": "group"
    }
  }
}
